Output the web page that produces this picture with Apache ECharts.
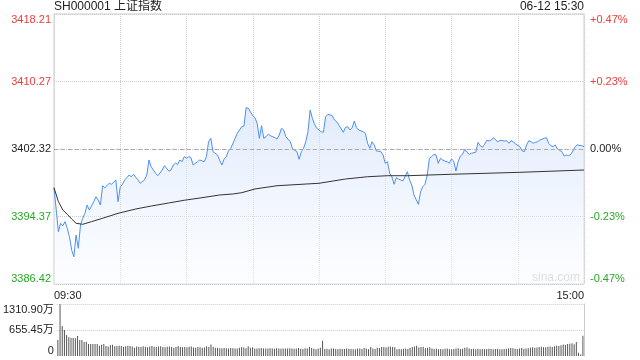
<!DOCTYPE html>
<html><head><meta charset="utf-8">
<script src="https://cdn.jsdelivr.net/npm/echarts@6/dist/echarts.min.js"></script>
<style>html,body{margin:0;padding:0;background:#fff}#c{width:640px;height:360px}</style>
</head><body><div id="c"></div>
<script>
const chartTitle = 'SH000001 上证指数';
const stamp = '06-12 15:30';
const timeLabels = ['09:30', '15:00'];
const priceTicks = ['3386.42', '3394.37', '3402.32', '3410.27', '3418.21'];
const pctTicks = ['-0.47%', '-0.23%', '0.00%', '+0.23%', '+0.47%'];
const volTicks = ['0', '655.45万', '1310.90万'];
const volMax = 1310.90;
const priceMin = 3386.42, priceMax = 3418.21;

const priceMinutes = [0,2,3,4,5,6,7,8,9,10,11,12,13,14,15,16,18,19,20,21,22,23,24,25,26,27,28,29,30,31,32,33,34,35,36,38,39,41,42,43,44,46,47,49,50,52,53,54,55,56,57,58,59,60,61,62,63,65,66,68,69,70,71,72,74,75,76,77,78,79,80,82,83,85,86,87,88,90,91,92,93,94,95,96,97,98,100,101,102,103,104,105,107,108,110,111,112,113,114,115,116,117,118,119,120,121,122,123,124,126,127,128,129,131,132,133,134,135,136,137,138,140,141,142,143,144,145,146,148,149,150,151,152,153,154,155,156,157,158,160,161,162,163,165,166,167,168,169,170,171,172,173,174,175,176,177,178,179,180,181,182,183,184,185,186,187,188,189,191,192,193,194,195,196,197,198,199,200,201,202,204,205,206,207,208,209,211,212,213,214,215,216,217,218,219,220,222,223,224,225,226,227,228,230,231,232,233,234,235,236,237,239,240];
const priceValues = [3397.76,3392.58,3393.57,3393.28,3393.76,3392.98,3391.99,3390.42,3389.63,3392.19,3390.62,3393.37,3394.16,3394.74,3395.72,3395.13,3396.11,3396.70,3396.31,3395.72,3397.99,3397.76,3397.99,3398.28,3398.16,3398.39,3398.67,3396.11,3397.88,3398.16,3398.67,3398.94,3399.25,3399.05,3399.34,3398.67,3398.28,3398.67,3399.25,3401.02,3400.23,3399.45,3399.17,3399.84,3400.35,3399.72,3399.84,3400.43,3400.63,3400.51,3401.02,3400.82,3401.41,3401.22,3401.41,3401.29,3400.43,3400.82,3401.02,3400.82,3401.41,3403.17,3403.58,3402.00,3401.61,3401.02,3400.43,3401.10,3401.41,3402.08,3402.36,3403.57,3404.16,3404.94,3405.02,3407.18,3407.11,3406.24,3406.00,3405.34,3403.57,3405.06,3403.57,3403.76,3404.05,3403.88,3403.65,3403.49,3403.96,3404.75,3404.55,3403.76,3403.17,3402.32,3402.00,3401.10,3402.00,3402.40,3403.17,3404.35,3406.91,3405.93,3405.22,3404.75,3404.55,3404.35,3404.28,3406.12,3406.40,3406.24,3405.73,3405.53,3405.14,3404.28,3404.87,3404.94,3404.55,3404.82,3405.61,3404.82,3404.55,3404.35,3404.16,3402.99,3402.40,3403.17,3402.79,3402.08,3402.00,3401.61,3400.63,3400.82,3399.45,3399.05,3398.16,3398.94,3398.78,3398.67,3398.55,3399.64,3398.67,3398.08,3396.90,3395.80,3397.29,3397.88,3398.16,3399.25,3401.22,3401.41,3401.69,3401.61,3400.63,3401.22,3401.02,3400.90,3400.82,3400.63,3401.14,3400.90,3399.72,3400.82,3401.49,3401.69,3402.28,3401.93,3401.69,3401.81,3401.93,3403.10,3402.70,3402.52,3402.87,3403.34,3403.26,3403.37,3403.65,3403.37,3403.17,3403.34,3403.26,3403.29,3402.99,3403.29,3403.17,3402.90,3402.59,3402.08,3402.00,3402.79,3403.29,3403.17,3402.99,3403.10,3403.17,3403.37,3403.57,3403.65,3402.99,3402.70,3402.59,3402.79,3402.32,3402.00,3401.49,3401.61,3401.53,3401.69,3402.08,3402.59,3402.79,3402.70,3402.59];

const avgMinutes = [0,2,4,6,8,10,13,17,22,29,37,44,52,59,67,75,81,85,91,101,120,132,142,151,160,180,211,240];
const avgValues = [3397.76,3396.11,3395.13,3394.63,3394.07,3393.57,3393.45,3393.76,3394.16,3394.74,3395.25,3395.60,3395.96,3396.28,3396.58,3396.90,3397.02,3397.17,3397.61,3397.99,3398.28,3398.78,3399.05,3399.17,3399.17,3399.34,3399.57,3399.84];

const volumes = [
403,1303,756,655,529,471,462,454,445,504,
403,403,353,361,302,302,302,302,302,260,
285,302,250,240,268,285,245,250,260,255,
232,245,258,250,238,210,240,232,225,245,
236,222,240,250,232,226,238,245,230,218,
236,240,224,210,228,252,230,218,226,220,
232,240,215,208,228,220,205,212,245,226,
290,232,205,210,198,196,202,198,188,200,
196,192,190,205,230,215,196,248,210,220,
192,186,196,200,190,186,192,198,188,184,
196,190,182,188,186,192,196,188,180,186,
200,184,178,196,186,230,204,180,172,190,
210,387,178,180,172,192,186,176,170,182,
178,175,190,184,178,172,168,186,190,176,
200,186,172,224,190,178,210,200,226,230,
212,236,242,228,218,168,176,170,182,186,
178,200,226,238,260,212,226,232,196,210,
220,190,176,184,170,176,168,180,192,172,
168,178,186,198,176,180,206,214,190,174,
180,172,184,170,178,168,176,182,174,170,
178,184,172,168,176,180,186,200,196,184,
176,190,200,182,186,196,208,222,206,214,
226,232,218,222,236,242,228,246,260,250,
270,290,276,300,310,320,298,352,80,40,
510];

const mid = (priceMin + priceMax) / 2, half = (priceMax - priceMin) / 2;
const norm = p => (p - mid) / half;
const FONT = 'Arial, "Liberation Sans", "Noto Sans CJK SC", sans-serif';
const RED = '#f03b3b', GREEN = '#25a825', DARK = '#222';
const tickIdx = v => Math.round((v + 1) * 2);
const styleKey = i => (i > 2 ? 'up' : (i < 2 ? 'dn' : 'fl'));
const rich = {
  up: { color: RED, fontSize: 11, fontFamily: FONT },
  dn: { color: GREEN, fontSize: 11, fontFamily: FONT },
  fl: { color: DARK, fontSize: 11, fontFamily: FONT }
};

const chart = echarts.init(document.getElementById('c'), null, { renderer: 'canvas' });
chart.setOption({
  animation: false,
  backgroundColor: '#fff',
  title: [
    { text: chartTitle, left: 54, top: 1, padding: 0, textStyle: { fontSize: 12, fontWeight: 'normal', color: DARK, fontFamily: FONT } },
    { text: stamp, right: 56, top: 1, padding: 0, textStyle: { fontSize: 12, fontWeight: 'normal', color: DARK, fontFamily: FONT } }
  ],
  graphic: [
    { type: 'text', left: 532, top: 272, silent: true, style: { text: 'sina.com', fill: '#c8c8c8', font: '12px ' + FONT } }
  ],
  grid: [
    { left: 54, right: 56, top: 14, height: 270, show: true, borderColor: '#ccc', borderWidth: 1 },
    { left: 54, right: 56, top: 304, height: 52 }
  ],
  xAxis: [
    { type: 'value', gridIndex: 0, min: 0, max: 240, interval: 30,
      axisLine: { show: false }, axisTick: { show: false },
      splitLine: { show: true, lineStyle: { color: '#ccc', type: 'dotted', width: 1 } },
      axisLabel: { show: true, margin: 6, fontSize: 11, color: DARK, fontFamily: FONT,
        showMinLabel: true, showMaxLabel: true, alignMinLabel: 'left', alignMaxLabel: 'right',
        formatter: v => (v === 0 ? timeLabels[0] : (v === 240 ? timeLabels[1] : '')) } },
    { type: 'value', gridIndex: 1, min: -0.5, max: 240.5, show: false }
  ],
  yAxis: [
    { type: 'value', gridIndex: 0, position: 'left', min: -1, max: 1, interval: 0.5,
      axisLine: { show: false }, axisTick: { show: false },
      splitLine: { show: true, lineStyle: { color: '#ccc', type: 'dotted', width: 1 } },
      axisLabel: { margin: 3, fontSize: 11, fontFamily: FONT, verticalAlignMinLabel: 'bottom', verticalAlignMaxLabel: 'top',
        formatter: v => { const i = tickIdx(v); return '{' + styleKey(i) + '|' + priceTicks[i] + '}'; }, rich: rich } },
    { type: 'value', gridIndex: 0, position: 'right', min: -1, max: 1, interval: 0.5,
      axisLine: { show: false }, axisTick: { show: false }, splitLine: { show: false },
      axisLabel: { margin: 6, fontSize: 11, fontFamily: FONT, verticalAlignMinLabel: 'bottom', verticalAlignMaxLabel: 'top',
        formatter: v => { const i = tickIdx(v); return '{' + styleKey(i) + '|' + pctTicks[i] + '}'; }, rich: rich } },
    { type: 'value', gridIndex: 1, position: 'left', min: 0, max: volMax, interval: volMax / 2,
      axisLine: { show: false }, axisTick: { show: false },
      splitLine: { show: true, lineStyle: { color: ['rgba(0,0,0,0)', '#ccc', '#ccc'], type: 'dotted', width: 1 } },
      axisLabel: { margin: 3, fontSize: 11, color: DARK, fontFamily: FONT, verticalAlignMinLabel: 'bottom', verticalAlignMaxLabel: 'top',
        formatter: v => volTicks[Math.round(v / (volMax / 2))] } },
    { type: 'value', gridIndex: 1, position: 'right', min: 0, max: volMax,
      axisLine: { show: true, lineStyle: { color: '#ccc', width: 1 } }, axisTick: { show: false },
      axisLabel: { show: false }, splitLine: { show: false } }
  ],
  series: [
    { type: 'line', xAxisIndex: 0, yAxisIndex: 0, symbol: 'none', z: 3,
      data: priceMinutes.map((m, i) => [m, norm(priceValues[i])]),
      lineStyle: { color: '#4f8ff0', width: 1 },
      areaStyle: { origin: 'start', color: new echarts.graphic.LinearGradient(0, 0, 0, 1, [
        { offset: 0, color: 'rgba(205,222,250,0.85)' }, { offset: 1, color: 'rgba(248,251,255,0.6)' }]) },
      markLine: { silent: true, symbol: ['none', 'none'], label: { show: false },
        lineStyle: { color: '#aaa', type: [4, 3], width: 1 }, data: [{ yAxis: 0 }] } },
    { type: 'line', xAxisIndex: 0, yAxisIndex: 0, symbol: 'none', z: 4,
      data: avgMinutes.map((m, i) => [m, norm(avgValues[i])]),
      lineStyle: { color: '#333', width: 1 } },
    { type: 'bar', xAxisIndex: 1, yAxisIndex: 2, barWidth: 1,
      data: volumes.map((v, i) => [i, v]), itemStyle: { color: '#555' } }
  ]
});
</script></body></html>
